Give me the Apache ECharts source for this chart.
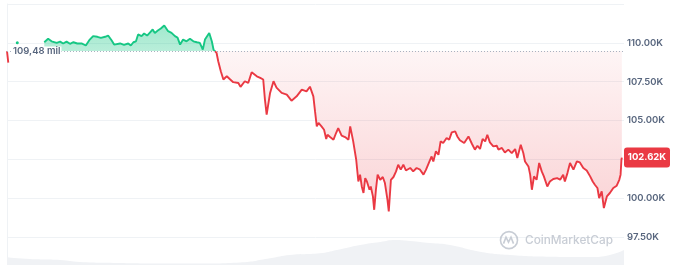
<!DOCTYPE html>
<html><head><meta charset="utf-8">
<script src="https://cdn.jsdelivr.net/npm/echarts@6/dist/echarts.min.js"></script>
<style>html,body{margin:0;padding:0;background:#fff}#c{width:677px;height:265px}</style>
</head><body><div id="c"></div>
<script>
// ---- data (minutes since start of the 24h window, USD) ----
const baseline = 109480;
const baselineLabel = '109,48 mil';
const priceTimes = [0,3,10,24,60,87,96,104,116,124,131,139,147,155,164,174,184,192,201,211,219,229,236,244,250,264,273,283,289,295,301,306,314,320,327,334,340,345,352,359,367,376,384,392,398,404,411,419,427,435,443,450,457,462,472,478,482,489,493,499,505,513,521,528,540,545,555,563,571,583,591,598,602,606,614,622,629,641,653,664,676,688,699,707,715,719,723,727,734,740,745,748,754,762,768,773,781,789,797,801,805,808,815,820,824,828,832,836,840,846,849,854,857,861,865,871,877,882,888,891,896,902,908,913,919,925,931,941,948,956,964,972,978,986,991,995,1001,1007,1012,1018,1026,1032,1038,1046,1051,1057,1067,1077,1085,1092,1098,1104,1110,1116,1121,1127,1135,1143,1147,1155,1162,1170,1178,1186,1191,1199,1205,1209,1217,1221,1225,1230,1236,1242,1248,1253,1261,1267,1275,1284,1291,1298,1302,1308,1314,1322,1330,1337,1345,1353,1361,1367,1372,1378,1382,1388,1393,1400,1407,1415,1423,1429,1432,1434,1435];
const priceValues = [109460,108730,null,110000,null,110040,110260,110100,110000,110080,109960,110080,109940,110040,109960,109960,109830,110170,110430,110390,110320,110390,110470,110170,109890,109960,109870,109960,109830,110040,110100,110540,110430,110600,110470,110680,110860,110640,110790,110920,111120,110750,110640,110430,110340,109890,110210,110100,110260,110100,110040,110000,109570,110210,110640,110100,109570,109360,108820,108170,107640,107850,107640,107470,107420,107170,107530,107420,108110,107850,107750,107640,106350,105380,106780,107530,107120,106780,106670,106280,106560,106990,106880,107180,106560,105570,104630,104850,104630,104410,103820,104090,103940,103770,104200,104520,104030,103940,103770,104630,104520,103660,102480,101080,101520,100760,100340,101300,101080,100550,100760,100120,99260,100550,101520,101190,101370,100980,99900,99150,101190,101370,101730,102160,101840,102160,101790,101950,101730,101950,101840,101520,101840,102370,102690,102370,103020,102800,103660,103560,103880,103770,104240,104310,103980,103730,103560,103980,103510,103130,103380,103170,103820,103660,104090,103600,103340,103380,103130,103240,102950,103130,102910,103170,102590,103450,102910,102370,102050,101520,100550,101410,101190,102270,101730,101410,100760,101080,101240,101300,101190,101520,101080,101620,102270,101840,102370,102310,101950,101790,101410,101080,100870,100660,100010,100440,99370,100120,100340,100660,100810,101190,101520,102480,102620];
const volumeTimes = [0,54,124,170,264,357,450,544,614,660,730,770,824,871,906,941,987,1034,1104,1174,1267,1361,1407,1440];
const volumeValues = [7.7,6,5,3,2,1.5,1.5,2.5,6.7,10,11.7,15,20,23,25,24,22,20,13.3,10,8.3,8,10,15];
const yMin = 95000, yMax = 112500, yStep = 2500;
const tMin = 0, tMax = 1440;
const watermark = 'CoinMarketCap';

const GREEN = '#16c784', RED = '#ea3943', LABEL = '#58667e';
const chart = echarts.init(document.getElementById('c'), null, {renderer: 'canvas'});

const priceData = priceTimes.map((t, i) => {
  const v = priceValues[i];
  const isolated = v != null && priceValues[i - 1] === null && priceValues[i + 1] === null;
  return isolated ? {value: [t, v], symbol: 'circle', symbolSize: 3} : [t, v];
});
const volumeData = volumeTimes.map((t, i) => [t, volumeValues[i]]);
const vals = priceValues.filter(v => v != null);
const maxV = Math.max(...vals), minV = Math.min(...vals);
const f = (maxV - baseline) / (maxV - minV);
const fill = new echarts.graphic.LinearGradient(0, 0, 0, 1, [
  {offset: 0, color: 'rgba(22,199,132,0.40)'},
  {offset: f, color: 'rgba(22,199,132,0.30)'},
  {offset: f, color: 'rgba(234,57,67,0.05)'},
  {offset: 1, color: 'rgba(234,57,67,0.22)'}
]);

const fmt = v => (v / 1000).toFixed(2) + 'K';

chart.setOption({
  animation: false,
  backgroundColor: '#fff',
  grid: [
    {left: 7, right: 53, top: 4, height: 272, outerBoundsMode: 'none', containLabel: false},
    {left: 7, right: 53, top: 225, height: 40, outerBoundsMode: 'none', containLabel: false}
  ],
  xAxis: [
    {type: 'value', gridIndex: 0, min: tMin, max: tMax, show: false},
    {type: 'value', gridIndex: 1, min: tMin, max: tMax, show: false}
  ],
  yAxis: [
    {type: 'value', gridIndex: 0, position: 'right', min: yMin, max: yMax, interval: yStep,
     axisLine: {show: false}, axisTick: {show: false},
     splitLine: {show: true, lineStyle: {color: '#eff2f5', width: 1}},
     axisLabel: {margin: 3, color: LABEL, fontSize: 9.5, fontWeight: 600, fontFamily: 'Inter',
       formatter: v => (v > 110000 ? '' : fmt(v))}},
    {type: 'value', gridIndex: 0, position: 'left', min: yMin, max: yMax,
     axisLine: {show: true, lineStyle: {color: '#eff2f5'}}, axisTick: {show: false},
     axisLabel: {show: false}, splitLine: {show: false}},
    {type: 'value', gridIndex: 1, min: 0, max: 40, show: false, splitLine: {show: false}}
  ],
  visualMap: {
    type: 'piecewise', show: false, dimension: 1, seriesIndex: 1,
    pieces: [{gt: baseline, lte: yMax * 2, color: GREEN}, {gt: 0, lte: baseline, color: RED}]
  },
  series: [
    {type: 'line', xAxisIndex: 1, yAxisIndex: 2, data: volumeData, smooth: true,
     symbol: 'none', lineStyle: {width: 0}, areaStyle: {color: '#f0f2f5', opacity: 1}, silent: true, z: 1},
    {type: 'line', xAxisIndex: 0, yAxisIndex: 0, data: priceData, symbol: 'none',
     connectNulls: false, lineStyle: {width: 1.9}, z: 3,
     areaStyle: {origin: baseline, color: fill, opacity: 1}}
  ]
});

const yBase = Math.round(chart.convertToPixel({yAxisIndex: 0}, baseline)) + 0.5;
const last = priceValues[priceValues.length - 1];
const yLast = chart.convertToPixel({yAxisIndex: 0}, last);
const xRight = chart.convertToPixel({xAxisIndex: 0}, tMax);
const xLeft = chart.convertToPixel({xAxisIndex: 0}, tMin);
const wmY = chart.convertToPixel({yAxisIndex: 0}, 97500) + 3;

chart.setOption({
  graphic: [
    {type: 'line', shape: {x1: xLeft, y1: yBase, x2: xRight, y2: yBase}, z: 4, silent: true,
     style: {stroke: '#a9b2c0', lineWidth: 1, lineDash: [1, 2]}},
    {type: 'text', left: xLeft + 5, top: yBase - 5, z: 10,
     style: {text: baselineLabel, fill: LABEL, font: '600 9.5px Inter', backgroundColor: '#fff', padding: [0, 1]}},
    {type: 'rect', shape: {x: xRight, y: yLast - 10, width: 46, height: 20, r: 3}, z: 20,
     style: {fill: RED}},
    {type: 'text', x: xRight + 23, y: yLast, z: 21,
     style: {text: fmt(last), fill: '#fff', font: '700 9.5px Inter', align: 'center', verticalAlign: 'middle'}},
    {type: 'circle', shape: {cx: xRight - 115, cy: wmY, r: 8.5}, z: 5,
     style: {fill: 'none', stroke: '#c8cdd5', lineWidth: 1.6}},
    {type: 'polyline', shape: {points: [[xRight - 120.5, wmY + 3.5], [xRight - 118, wmY - 3], [xRight - 115.5, wmY + 2], [xRight - 113, wmY - 3], [xRight - 110.5, wmY + 3.5]]}, z: 5,
     style: {fill: 'none', stroke: '#c8cdd5', lineWidth: 1.6}},
    {type: 'text', x: xRight - 99, y: wmY, z: 5,
     style: {text: watermark, fill: '#c8cdd5', font: '500 11.8px Inter', verticalAlign: 'middle'}}
  ]
});
</script></body></html>
